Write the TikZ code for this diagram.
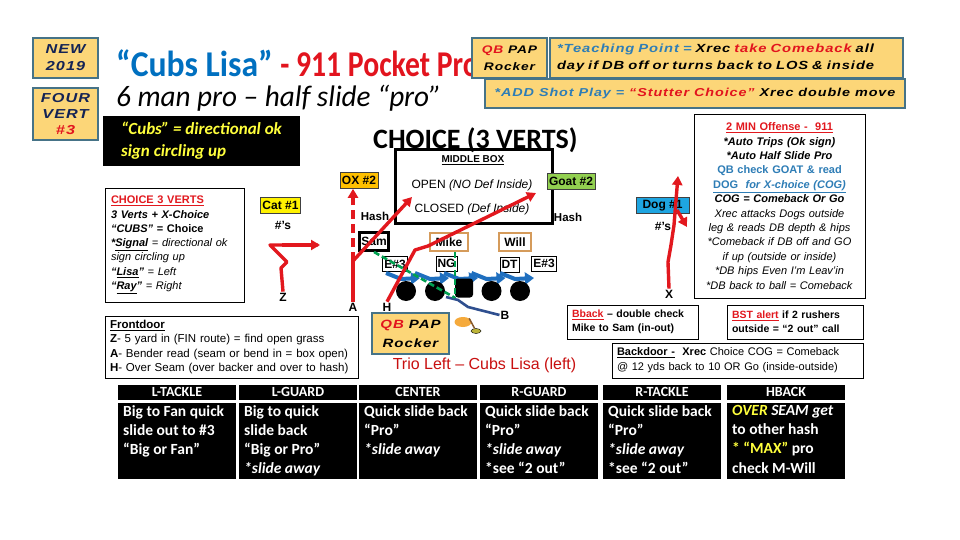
\documentclass[tikz,border=0pt]{standalone}
\usepackage{fontspec}
\setmainfont{Liberation Sans}
\newfontfamily\calib{Carlito}
\newfontfamily\widefont[FakeStretch=1.25, LetterSpace=8]{Liberation Sans}
\usepackage{xcolor}
\usetikzlibrary{arrows.meta, positioning, shapes.geometric}
\definecolor{padyellow}{RGB}{252,214,120}
\definecolor{padedge}{RGB}{70,115,135}
\definecolor{navytxt}{RGB}{20,35,85}
\definecolor{cubsblue}{RGB}{0,112,192}
\definecolor{pocketred}{RGB}{226,20,30}
\definecolor{tipblue}{RGB}{46,125,182}
\definecolor{routered}{RGB}{226,24,30}
\definecolor{blockblue}{RGB}{31,111,191}
\definecolor{backnavy}{RGB}{47,79,143}
\definecolor{readgreen}{RGB}{0,160,80}
\definecolor{lbtan}{RGB}{213,155,91}
\definecolor{oxorange}{RGB}{255,192,0}
\definecolor{goatgreen}{RGB}{146,208,80}
\definecolor{dogblue}{RGB}{30,165,225}
\definecolor{triored}{RGB}{200,16,16}
\definecolor{maxyellow}{RGB}{255,255,60}
\definecolor{qborange}{RGB}{245,170,60}

\begin{document}
\begin{tikzpicture}[
    x=1pt, y=-1pt,
    pad/.style={rectangle, draw=padedge, fill=padyellow, line width=1.2pt,
                align=center, inner sep=1pt},
    tag/.style={rectangle, draw=black!75, fill=#1, line width=0.6pt,
                inner sep=2pt, minimum height=16pt, font=\bfseries\fontsize{12}{12}\selectfont},
    lbox/.style={rectangle, draw=#1, fill=white, line width=2.6pt, inner sep=1.5pt,
                 minimum height=18pt, font=\bfseries\fontsize{12}{12}\selectfont},
    dlbox/.style={rectangle, draw=black, fill=white, line width=0.8pt, inner sep=1.5pt,
                  minimum height=15pt, font=\bfseries\fontsize{12}{12}\selectfont},
    oman/.style={circle, fill=black, minimum size=20pt, inner sep=0pt},
    route/.style={draw=routered, line width=3.4pt, line join=round},
    routetip/.style={route, -{Triangle[length=9pt, width=10pt]}},
    block/.style={draw=blockblue, line width=4pt, -{Triangle[length=9pt, width=12pt]}},
    readline/.style={draw=readgreen, line width=2.6pt, dash pattern=on 6pt off 3pt},
    note/.style={rectangle, draw=black, line width=0.9pt, fill=white, align=left, inner sep=4pt},
    letter/.style={font=\bfseries\fontsize{12}{12}\selectfont, inner sep=1pt},
    hdcell/.style={rectangle, fill=black, text=white, minimum width=118pt, minimum height=15pt,
                   inner sep=0pt, font=\calib\bfseries\fontsize{14}{14}\selectfont},
    bdcell/.style={rectangle, fill=black, minimum width=118pt, minimum height=76pt, inner sep=0pt},
    bdtext/.style={anchor=north west, text=white, align=left, inner sep=0pt,
                   font=\calib\bfseries\fontsize{15.5}{19.3}\selectfont}
]
    \fill[white] (0,0) rectangle (960,540);
    \useasboundingbox (0,0) rectangle (960,540);

    % Corner pads
    \node[pad, minimum width=65pt, minimum height=40pt, text=navytxt,
          font=\widefont\bfseries\itshape\fontsize{13}{17}\selectfont] (newyr) at (65.5,58) {NEW\\2019};
    \node[pad, minimum width=65pt, minimum height=52pt, text=navytxt,
          font=\widefont\bfseries\itshape\fontsize{13}{16}\selectfont] (fourvert) at (65.5,114)
          {FOUR\\VERT\\\textcolor{pocketred}{\#3}};

    % Titles
    \node[anchor=base west, inner sep=0pt, font=\calib\bfseries\fontsize{33}{33}\selectfont] (title) at (116,77)
          {\scalebox{1.02}[1.1]{\textcolor{cubsblue}{“Cubs Lisa”}}
           \scalebox{0.9}[1.1]{\textcolor{pocketred}{- 911 Pocket Pro}}};
    \node[anchor=base west, inner sep=0pt, font=\calib\itshape\fontsize{27}{27}\selectfont] (subtitle) at (116,107)
          {\scalebox{1.08}[1.1]{6 man pro – half slide “pro”}};
    \node[fill=black, minimum width=197pt, minimum height=50pt, align=left,
          text=maxyellow, font=\calib\bfseries\itshape\fontsize{17}{22}\selectfont] (cubssign) at (201.5,141)
          {“Cubs” = directional ok\\sign circling up};

    % Top right pads
    \node[pad, minimum width=75pt, minimum height=40pt,
          font=\widefont\bfseries\itshape\fontsize{11}{17}\selectfont] (qbtop) at (509.5,58)
          {\textcolor{pocketred}{QB} PAP\\Rocker};
    \node[pad, minimum width=353pt, minimum height=40pt, text width=339pt, align=left,
          font=\widefont\bfseries\itshape\fontsize{11.8}{17}\selectfont] (teach) at (726.5,58)
          {\textcolor{tipblue}{*Teaching Point =} Xrec \textcolor{pocketred}{take Comeback} all\\
           day if DB off or turns back to LOS \& inside};
    \node[pad, minimum width=420pt, minimum height=29pt,
          font=\widefont\bfseries\itshape\fontsize{11.5}{14}\selectfont] (shot) at (695,93.5)
          {\textcolor{tipblue}{*ADD Shot Play =} \textcolor{pocketred}{“Stutter Choice”} Xrec double move};

    % Middle box
    \node[anchor=base west, inner sep=0pt, font=\calib\bfseries\fontsize{28}{28}\selectfont] (choicehead) at (373,149)
          {CHOICE (3 VERTS)};
    \node[draw, line width=3pt, minimum width=157pt, minimum height=73pt] (middlebox) at (473.5,186.5) {};
    \node[font=\bfseries\fontsize{10}{10}\selectfont] (middlelbl) at (473,160) {\underline{MIDDLE BOX}};
    \node[font=\fontsize{12}{12}\selectfont] (openlbl) at (472,185) {OPEN \textit{(NO Def Inside)}};
    \node[font=\fontsize{12}{12}\selectfont] (closedlbl) at (472,209) {CLOSED \textit{(Def Inside)}};

    % Receiver tags and hash marks
    \node[tag=oxorange] (oxtag) at (359,180.5) {OX \#2};
    \node[tag=goatgreen] (goattag) at (571,181) {Goat \#2};
    \node[tag=yellow] (cattag) at (280.5,205) {Cat \#1};
    \node[tag=dogblue, minimum width=53pt] (dogtag) at (662.5,205.5) {Dog \#1};
    \node[letter] (catnums) at (283,225) {\#’s};
    \node[letter] (dognums) at (663,226) {\#’s};
    \node[letter, font=\bfseries\fontsize{11.5}{11.5}\selectfont] (hashl) at (375,216) {Hash};
    \node[letter, font=\bfseries\fontsize{11.5}{11.5}\selectfont] (hashr) at (568,217) {Hash};

    % Defense
    \node[lbox=black, line width=3pt] (sam) at (374,241.5) {Sam};
    \node[lbox=lbtan, minimum width=38pt] (mike) at (449,242) {Mike};
    \node[lbox=lbtan, minimum width=32pt] (will) at (515,242) {Will};
    \node[dlbox] (endl) at (395,264) {E\#3};
    \node[dlbox] (ng) at (446.5,263.5) {NG};
    \node[dlbox] (dt) at (509.5,264.5) {DT};
    \node[dlbox] (endr) at (544,263.5) {E\#3};

    % Offensive line and protection
    \foreach \x in {406,435,464,491.5,520}
        \draw[block] (\x-20,273) -- (\x-5,279) -- (\x+14,278);
    \foreach \x/\nm in {406/ltk,435/lgd,491.5/rgd,520/rtk}
        \node[oman] (\nm) at (\x,291) {};
    \node[rectangle, rounded corners=3pt, fill=black, minimum width=18pt, minimum height=19pt,
          inner sep=0pt] (ctr) at (464,288) {};
    \node[letter] (bback) at (505,315) {B};
    \draw[backnavy, line width=2.6pt, line join=round] (446,297) -- (458,300) -- (468,307) -- (bback.west);
    \draw[readline] (sam.south) -- (ctr.south west);
    \draw[readline] (mike.south -| ctr.west) -- (ctr.south west);
    \node[ellipse, fill=qborange, minimum width=17pt, minimum height=10pt, inner sep=0pt] (qb) at (463,322) {};
    \node[ellipse, draw=black, fill=yellow!70!black, minimum width=10pt, minimum height=5pt, inner sep=0pt] (ball) at (476,331) {};
    \draw[brown!70!black, line width=1.5pt] (qb.north east) -- (ball);

    % Routes
    \node[letter] (zlbl) at (283,297) {Z};
    \node[letter] (albl) at (353,307) {A};
    \node[letter] (hlbl) at (387,307) {H};
    \node[letter] (xlbl) at (669,294) {X};
    \coordinate (abreak) at (353,261);
    \draw[route] (zlbl.north) -- (281,268) -- (287,262) -- (270,245) -- (318,245);
    \draw[routetip] (282,245) -- (320,245);
    \draw[route] (albl.north) -- (abreak);
    \draw[routetip, dash pattern=on 9pt off 5pt] (abreak) -- (abreak |- oxtag.south);
    \draw[routetip] (abreak) -- (412,197);
    \draw[routetip] (hlbl.north) -- (415,250) -- (428,246) -- (536,193);
    \draw[routetip] (xlbl.north) -- (668,262) -- (671,245) -- (674,225) -- (676,200) -- (678,176);
    \draw[routetip] (677,210) -- (687,227);

    \node[pad, minimum width=77pt, minimum height=41pt,
          font=\widefont\bfseries\itshape\fontsize{12}{19}\selectfont] (qbmid) at (410.5,333.5)
          {\textcolor{pocketred}{QB} PAP\\Rocker};
    \node[text=triored, font=\fontsize{16}{16}\selectfont] (triotitle) at (484.5,365) {Trio Left – Cubs Lisa (left)};

    % Notes
    \node[note, minimum width=139pt, minimum height=114pt, text width=127pt,
          font=\fontsize{11}{14.3}\selectfont] (choicenote) at (174.5,245)
          {\textcolor{routered}{\bfseries\underline{CHOICE 3 VERTS}}\\
           \textbf{\textit{3 Verts + X-Choice}}\\
           \textbf{\textit{“CUBS”} = Choice}\\
           \textbf{\textit{*\underline{Signal}}} \textit{= directional ok}\\
           \textit{sign circling up}\\
           \textbf{\textit{“\underline{Lisa}”}} \textit{= Left}\\
           \textbf{\textit{“\underline{Ray}”}} \textit{= Right}};
    \node[note, minimum width=253pt, minimum height=62pt, text width=243pt,
          font=\fontsize{11.5}{14.3}\selectfont] (frontnote) at (231.5,347)
          {\textbf{\underline{Frontdoor}}\\
           \textbf{Z}- 5 yard in (FIN route) = find open grass\\
           \textbf{A}- Bender read (seam or bend in = box open)\\
           \textbf{H}- Over Seam (over backer and over to hash)};
    \node[note, align=center, minimum width=171pt, minimum height=184pt, text width=163pt,
          font=\fontsize{11}{14.4}\selectfont] (twomin) at (779.5,206)
          {\textcolor{routered}{\bfseries\underline{2 MIN Offense -\ \ 911}}\\
           \textbf{\textit{*Auto Trips (Ok sign)}}\\
           \textbf{\textit{*Auto Half Slide Pro}}\\
           \textcolor{tipblue}{\bfseries QB check GOAT \& read}\\
           \textcolor{tipblue}{\bfseries\underline{DOG\ \ \textit{for X-choice (COG)}}}\\
           \textbf{\textit{COG = Comeback Or Go}}\\
           \textit{Xrec attacks Dogs outside}\\
           \textit{leg \& reads DB depth \& hips}\\
           \textit{*Comeback if DB off and GO}\\
           \textit{if up (outside or inside)}\\
           \textit{*DB hips Even I’m Leav’in}\\
           \textit{*DB back to ball = Comeback}};
    \node[note, minimum width=131pt, minimum height=34pt, text width=121pt,
          font=\bfseries\fontsize{10.5}{14}\selectfont] (bbacknote) at (632.5,322)
          {\textcolor{routered}{\underline{Bback}} – double check\\Mike to Sam (in-out)};
    \node[note, minimum width=136pt, minimum height=34pt, text width=126pt,
          font=\bfseries\fontsize{10.5}{14}\selectfont] (bstnote) at (795,322)
          {\textcolor{routered}{\underline{BST alert}} if 2 rushers\\outside = “2 out” call};
    \node[note, minimum width=251pt, minimum height=35pt, text width=241pt,
          font=\fontsize{11}{15}\selectfont] (backnote) at (737.5,360.5)
          {\textbf{\underline{Backdoor -}}\ \ \textbf{Xrec} Choice COG = Comeback\\
           @ 12 yds back to 10 OR Go (inside-outside)};

    % Protection table
    \foreach \x/\hd/\bd in {
        118/L-TACKLE/{Big to Fan quick\\slide out to \#3\\“Big or Fan”},
        239/L-GUARD/{Big to quick\\slide back\\“Big or Pro”\\\textit{*slide away}},
        359/CENTER/{Quick slide back\\“Pro”\\\textit{*slide away}},
        480/R-GUARD/{Quick slide back\\“Pro”\\\textit{*slide away}\\*see “2 out”},
        603/R-TACKLE/{Quick slide back\\“Pro”\\\textit{*slide away}\\*see “2 out”},
        727/HBACK/{\itshape\textcolor{maxyellow}{OVER} SEAM get\\to other hash\\\textcolor{maxyellow}{* “MAX”} pro\\check M-Will}} {
        \node[hdcell] (hd\x) at (\x+59,392) {\hd};
        \node[bdcell] (bd\x) at (\x+59,440.5) {};
        \node[bdtext] (bt\x) at (\x+5,405) {\bd};
    }
\end{tikzpicture}
\end{document}
